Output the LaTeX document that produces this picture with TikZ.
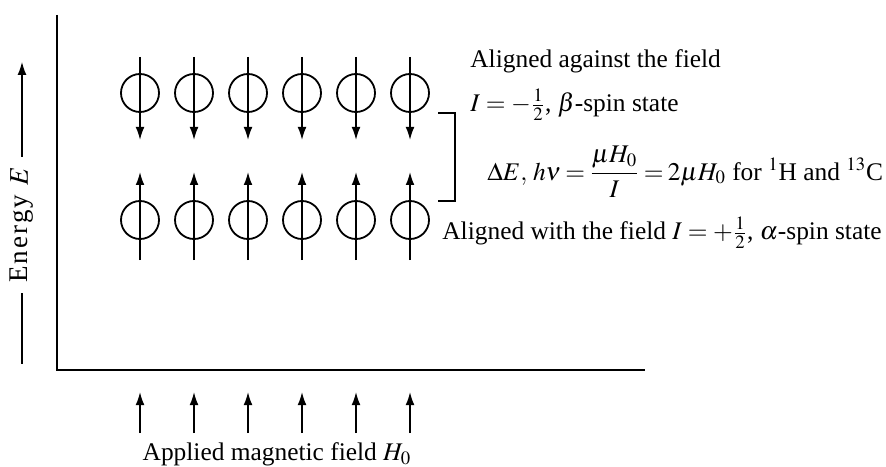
\documentclass[tikz,border=0pt]{standalone}
\usepackage{amsmath}
\usepackage{mathptmx}
\usepackage{fontspec}
\setmainfont{Liberation Serif}
\usetikzlibrary{arrows.meta,positioning,calc}

\begin{document}
\begin{tikzpicture}[
  x=0.5pt, y=0.5pt,
  font=\fontsize{12.7}{15}\selectfont,
  >={Latex[length=6.5pt,width=4.4pt]},
  spin/.style={
    draw,
    circle,
    minimum size=19pt,
    inner sep=0pt,
    line width=0.9pt
  },
  arrow/.style={->, line width=0.8pt},
  axis/.style={line width=1pt},
  txt/.style={anchor=west, inner sep=0pt}
]

\useasboundingbox (0,0) rectangle (886,466);

\foreach \i in {1,...,6} {
  \node[spin] (beta\i) at ({86+54*\i},373) {};
  \node[spin] (alpha\i) at ({86+54*\i},246) {};
  \draw[arrow] ([yshift=18pt]beta\i.center) -- ([yshift=-23.5pt]beta\i.center);
  \draw[arrow] ([yshift=-20pt]alpha\i.center) -- ([yshift=24pt]alpha\i.center);
}

\draw[axis] (57,451) |- (645,96);

\node[rotate=90, inner xsep=5pt, inner ysep=0pt,
      font=\fontsize{13.5}{15}\selectfont\addfontfeature{LetterSpace=8}] (energy) at (22,241) {Energy $E$};
\draw[arrow] (energy.east) -- ++(0,95);
\draw[axis] (energy.west) -- ++(0,-71);

\draw[line width=0.8pt] (438,353) -| (455,265) -- (438,265);

\node[txt] (against) at (470,405) {Aligned against the field};
\node[txt] (beta) at (470,361) {$I=-\tfrac{1}{2}$, $\beta$-spin state};
\node[txt] (gap) at (487,294) {\thickmuskip=3mu\medmuskip=2mu%
  $\Delta E,\,h\nu=\dfrac{\mu H_0}{I}=2\mu H_0$ for $^{1}$H and $^{13}$C};
\node[txt] (with) at (442,233) {Aligned with the field $I=+\tfrac{1}{2}$, $\alpha$-spin state};

\coordinate (fieldtip) at (0,74);
\coordinate (fieldtail) at (0,33);
\foreach \i in {1,...,6} {
  \draw[arrow] (alpha\i |- fieldtail) -- (alpha\i |- fieldtip);
}
\node (field) at (277,12) {Applied magnetic field $H_0$};

\end{tikzpicture}
\end{document}
